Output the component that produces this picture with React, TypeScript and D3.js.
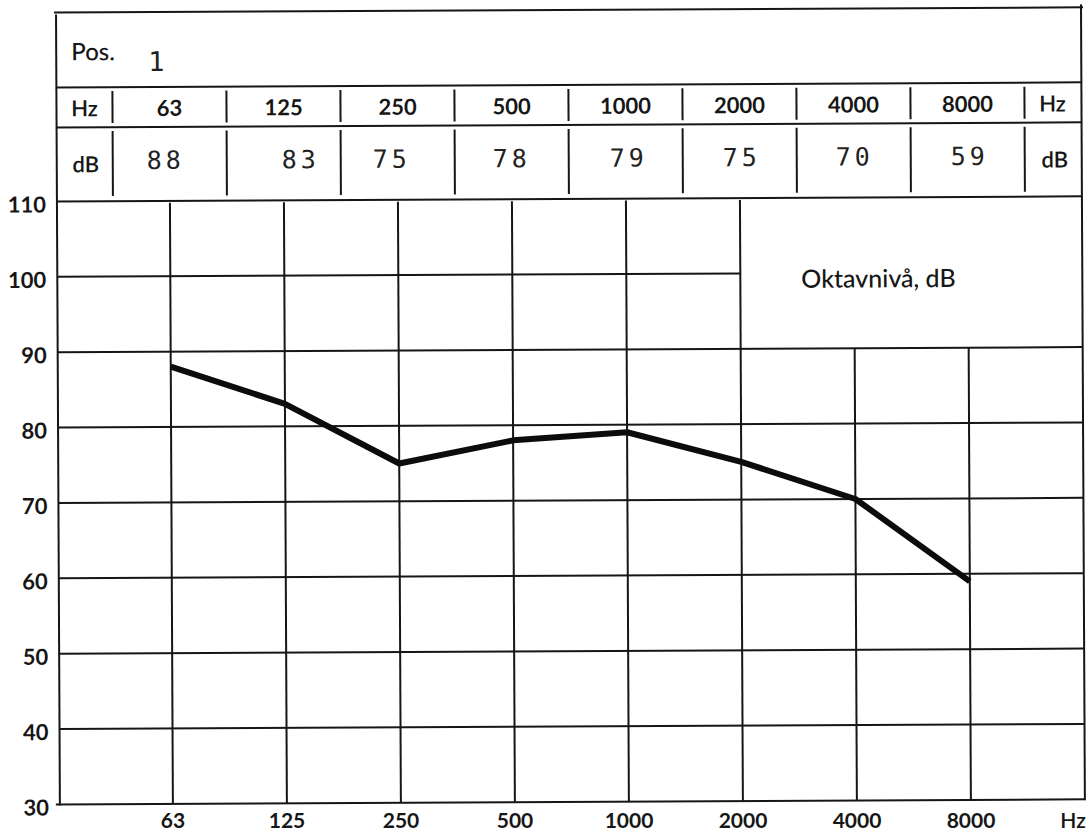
import React from "react";
import * as d3 from "d3";

const frequencies = ["63", "125", "250", "500", "1000", "2000", "4000", "8000"];
const levelsDb = [88, 83, 75, 78, 79, 75, 70, 59];
const typedValues = ["88", "83", "75", "78", "79", "75", "70", "59"];
const yTicks = [30, 40, 50, 60, 70, 80, 90, 100, 110];
const positionLabel = "1";
const boxLabel = "Oktavnivå, dB";

// layout constants (not data)
const typedNudge = [-4, 17, -6, 0, 3, 2, 1, 2];
const W = 1091;
const H = 834;
const left = 58;
const right = 1083;
const tableTop = 10;
const rowPos = 85;
const rowHz = 125;
const skew = -0.28;

const SANS = "Lato, 'Open Sans', sans-serif";
const MONO = "'DejaVu Sans Mono', 'Liberation Mono', monospace";
const INK = "#161616";

export default function App() {
  const x = d3.scaleBand<string>().domain(frequencies).range([114, 1026]).padding(0);
  const bw = x.bandwidth();
  const cx = (f: string) => (x(f) as number) + bw / 2;
  const y = d3.scaleLinear().domain([30, 110]).range([802, 199]);

  const line = d3
    .line<number>()
    .x((_, i) => cx(frequencies[i]))
    .y((d) => y(d));

  const boxLeft = cx("2000");
  const boxBottom = y(90);

  const sw = 2;

  return (
    <svg
      width={W}
      height={H}
      viewBox={`0 0 ${W} ${H}`}
      style={{ position: "absolute", left: 0, top: 0, background: "#fff" }}
    >
      <rect x={0} y={0} width={W} height={H} fill="#fff" />
      <g transform={`rotate(${skew}, 545, 417)`}>
        <g stroke={INK} strokeWidth={sw} fill="none">
          {/* table outline */}
          <line x1={left - 2} x2={right + 2} y1={tableTop} y2={tableTop} />
          <line x1={left} x2={left} y1={tableTop + 2} y2={y(30) + 1} />
          <line x1={right} x2={right} y1={tableTop - 3} y2={y(30) + 1} />
          <line x1={left} x2={right} y1={rowPos} y2={rowPos} />
          <line x1={left} x2={right} y1={rowHz} y2={rowHz} />
          {/* table dividers */}
          {[...frequencies.map((f) => x(f) as number), 1026].map((xv, i) => (
            <g key={"d" + i}>
              <line x1={xv} x2={xv} y1={rowPos + 4} y2={rowHz - 4} />
              <line x1={xv} x2={xv} y1={rowHz + 4} y2={y(110) - 5} />
            </g>
          ))}
          {/* horizontal grid */}
          {yTicks.map((t) => {
            const x1 = t === 30 ? left - 4 : left;
            const x2 = t === 100 ? boxLeft : right;
            return <line key={"h" + t} x1={x1} x2={x2} y1={y(t)} y2={y(t)} />;
          })}
          {/* vertical grid */}
          {frequencies.map((f) => {
            const xv = cx(f);
            const top = xv > boxLeft + 1 ? boxBottom : y(110) + 2;
            return <line key={"v" + f} x1={xv} x2={xv} y1={top} y2={y(30)} />;
          })}
        </g>

        {/* data line */}
        <path
          d={line(levelsDb) || ""}
          fill="none"
          stroke="#0c0c0c"
          strokeWidth={6}
          strokeLinejoin="round"
          strokeLinecap="butt"
        />

        {/* table text */}
        <text x={73} y={58} fontFamily={SANS} fontSize={24} fontWeight={500} fill={INK}>
          Pos.
        </text>
        <text x={150} y={69} fontFamily={MONO} fontSize={27} fill="#222">
          {positionLabel}
        </text>
        <text x={86} y={114} textAnchor="middle" fontFamily={SANS} fontSize={22} fontWeight={600} fill={INK}>
          Hz
        </text>
        <text x={87} y={170} textAnchor="middle" fontFamily={SANS} fontSize={22} fontWeight={600} fill={INK}>
          dB
        </text>
        <text x={1054} y={114} textAnchor="middle" fontFamily={SANS} fontSize={22} fontWeight={600} fill={INK}>
          Hz
        </text>
        <text x={1056} y={170} textAnchor="middle" fontFamily={SANS} fontSize={22} fontWeight={600} fill={INK}>
          dB
        </text>
        {frequencies.map((f) => (
          <text
            key={"th" + f}
            x={cx(f)}
            y={114}
            textAnchor="middle"
            fontFamily={SANS}
            fontSize={22}
            fontWeight={700}
            fill={INK}
          >
            {f}
          </text>
        ))}
        {typedValues.map((v, i) => (
          <text
            key={"tv" + i}
            x={cx(frequencies[i]) + typedNudge[i]}
            y={167}
            textAnchor="middle"
            fontFamily={MONO}
            fontSize={25}
            letterSpacing={4}
            fill="#222"
          >
            {v}
          </text>
        ))}

        {/* y axis labels */}
        {yTicks.map((t) => (
          <text
            key={"yl" + t}
            x={47}
            y={y(t) + 11}
            textAnchor="end"
            fontFamily={SANS}
            fontSize={22}
            fontWeight={700}
            fill={INK}
          >
            {t}
          </text>
        ))}

        {/* box label */}
        <text x={802} y={289} fontFamily={SANS} fontSize={25} fontWeight={500} fill={INK}>
          {boxLabel}
        </text>
      </g>

      {/* x axis labels (unrotated, as in the scan) */}
      {frequencies.map((f) => (
        <text
          key={"xl" + f}
          x={cx(f) + 2}
          y={828}
          textAnchor="middle"
          fontFamily={SANS}
          fontSize={21}
          fontWeight={700}
          fill={INK}
        >
          {f}
        </text>
      ))}
      <text x={1073} y={828} textAnchor="middle" fontFamily={SANS} fontSize={21} fontWeight={600} fill={INK}>
        Hz
      </text>
    </svg>
  );
}
